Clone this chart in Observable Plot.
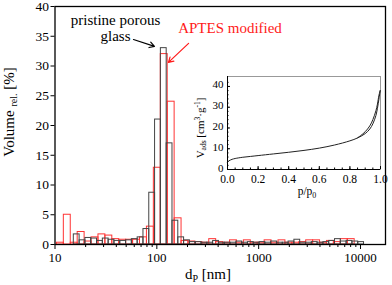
<!DOCTYPE html>
<html><head><meta charset="utf-8">
<script src="https://cdn.jsdelivr.net/npm/d3@7"></script>
<script src="https://cdn.jsdelivr.net/npm/@observablehq/plot@0.6"></script>
<style>
body{margin:0;background:#fff}
#c{position:relative;width:392px;height:285px;}
#c svg{position:absolute;overflow:visible}
</style>
</head><body><div id="c"></div>
<script>
// ---- Histogram data (pore diameter in nm, log-spaced bins) ----
const blackBinStart = 15.3;      // nm, lower edge of first bin
const blackBinWidth = 0.057;     // decades
const blackValues = [1.7,0.7,1.1,1.0,0.6,1.0,0.8,0.6,0.6,0.7,0.9,1.2,2.6,8.7,21,33,17,4.0,1.2,0.7,
  0.4,0.4,0.3,0.3,0.6,0.3,0.3,0.3,0.5,0.3,0.4,0.3,0.4,0.3,0.5,0.3,0.3,0.5,0.8,0.3,
  0.3,0.4,0.3,0.4,0.6,0.9,0.5,0.6,0.5,0.4];
const redBinStart = 10.44;
const redBinWidth = 0.068;
const redValues = [0.3,5.0,0.3,2.1,0.5,1.2,1.7,1.5,0.9,0.8,0.8,0.8,1.2,3.0,12.9,32,24,4.4,0.6,0.5,
  0.4,0.3,0.9,0.4,0.3,0.7,0.3,0.7,0.3,0.3,0.7,0.3,0.7,0.3,0.3,0.4,0.7,0.7,0.3,0.6,
  0.4,0.9,0.9];
const xMajorTicks = [10,100,1000,10000];
const yTicks = [0,5,10,15,20,25,30,35,40];

// ---- Inset isotherm ----
const adsP = [0,0.01,0.03,0.05,0.1,0.15,0.2,0.3,0.4,0.5,0.6,0.7,0.8,0.85,0.9,0.93,0.95,0.97,0.98,0.99,0.998];
const adsV = [3.5,4.2,4.9,5.3,5.9,6.3,6.7,7.5,8.3,9.2,10.3,11.8,13.8,15.2,17.3,19.5,22,26,29.5,34,38];
const desP = [0.998,0.99,0.98,0.97,0.95,0.93,0.9,0.87,0.85];
const desV = [38,35.8,31.5,28.3,24,21,18.2,16.3,15.3];
const insetXTicks = [0,0.2,0.4,0.6,0.8,1.0];
const insetYTicks = [0,10,20,30,40];

// ---- Annotations (data coordinates) ----
const labels = [
  {text:"pristine porous", x:39.3, y:37.7, color:"black"},
  {text:"glass", x:39.3, y:35.0, color:"black"},
  {text:"APTES modified", x:523, y:36.3, color:"#ff1a1a"}
];
const arrows = [
  {x1:59, y1:34.45, x2:94.8, y2:33.3, color:"black"},
  {x1:205, y1:33.8, x2:130, y2:30.6, color:"#ff1a1a"}
];

const rows = (start, w, vals) => vals.map((v,i)=>({x1:start*10**(i*w), x2:start*10**((i+1)*w), y:v}));
const blackRows = rows(blackBinStart, blackBinWidth, blackValues);
const redRows = rows(redBinStart, redBinWidth, redValues);
const xMinor = [];
for (const d of [10,100,1000,10000]) for (let k=2;k<=9;k++) if (d*k<17600) xMinor.push(d*k);

const font = "Liberation Serif, Times New Roman, serif";
const main = Plot.plot({
  width:392, height:285, marginLeft:54.5, marginRight:7, marginTop:6, marginBottom:41,
  style:{fontFamily:font, fontSize:"13px", color:"black", background:"transparent"},
  x:{type:"log", domain:[10,17600]},
  y:{domain:[0,40]},
  marks:[
    Plot.rectY(redRows,{x1:"x1",x2:"x2",y:"y",fill:"none",stroke:"#ff3333",strokeWidth:1,inset:0}),
    Plot.rectY(blackRows,{x1:"x1",x2:"x2",y:"y",fill:"none",stroke:"#444",strokeWidth:1,inset:0}),
    Plot.axisX({ticks:xMajorTicks, tickFormat:d=>String(d), tickSize:5, tickPadding:3, label:null, fontSize:13}),
    Plot.axisX({ticks:xMinor, tickFormat:()=>"", tickSize:3, label:null}),
    Plot.axisY({ticks:yTicks, tickSize:4, tickPadding:2, label:null, fontSize:13.5}),
    Plot.frame({stroke:"black", strokeWidth:1.3}),
    Plot.text(labels,{x:"x",y:"y",text:"text",fill:"color",fontSize:15,textAnchor:"middle"}),
    Plot.arrow(arrows,{x1:"x1",y1:"y1",x2:"x2",y2:"y2",stroke:"color",strokeWidth:1.2,headLength:7})
  ]
});
document.getElementById("c").appendChild(main);
main.style.left="0px"; main.style.top="0px";
const ms = d3.select(main);
const yl = ms.append("text").attr("transform","translate(14,112) rotate(-90)")
  .attr("text-anchor","middle").attr("font-family",font).attr("font-size",15).attr("fill","black");
yl.append("tspan").text("Volume ");
yl.append("tspan").attr("font-size",10).attr("dy",3).text("rel.");
yl.append("tspan").attr("dy",-3).text(" [%]");
const xl = ms.append("text").attr("x",208).attr("y",279)
  .attr("text-anchor","middle").attr("font-family",font).attr("font-size",15).attr("fill","black");
xl.append("tspan").text("d");
xl.append("tspan").attr("font-size",10).attr("dy",3).text("P");
xl.append("tspan").attr("dy",-3).text(" [nm]");

// inset
const ads = adsP.map((p,i)=>({p, v:adsV[i]}));
const des = desP.map((p,i)=>({p, v:desV[i]}));
const yMinorIn = d3.range(0,44,2);
const xMinorIn = d3.range(0,1.0001,0.05);
const inset = Plot.plot({
  width:195, height:134, marginLeft:37, marginRight:5, marginTop:10, marginBottom:31,
  style:{fontFamily:font, fontSize:"11px", color:"black", background:"transparent"},
  x:{domain:[0,1]},
  y:{domain:[0,44.8]},
  marks:[
    Plot.frame({stroke:"#999", strokeWidth:1}),
    Plot.ruleX([0],{stroke:"black"}),
    Plot.ruleY([0],{stroke:"black"}),
    Plot.axisY({ticks:insetYTicks, tickSize:0, tickPadding:4, dy:-1.5, label:null, fontSize:11}),
    Plot.axisY({ticks:insetYTicks, tickSize:3, dx:3, tickFormat:()=>"", label:null}),
    Plot.axisY({ticks:yMinorIn, tickSize:1.5, dx:1.5, tickFormat:()=>"", label:null}),
    Plot.axisX({ticks:insetXTicks, tickSize:0, tickPadding:5, tickFormat:d3.format(".1f"), label:null, fontSize:11.5}),
    Plot.axisX({ticks:insetXTicks, tickSize:3, dy:-3, tickFormat:()=>"", label:null}),
    Plot.axisX({ticks:xMinorIn, tickSize:1.5, dy:-1.5, tickFormat:()=>"", label:null}),
    Plot.line(ads,{x:"p",y:"v",stroke:"#222",strokeWidth:1,curve:"catmull-rom"}),
    Plot.line(des,{x:"p",y:"v",stroke:"#222",strokeWidth:1,curve:"catmull-rom"})
  ]
});
document.getElementById("c").appendChild(inset);
inset.style.left="190px"; inset.style.top="66px";
const is = d3.select(inset);
const il = is.append("text").attr("transform","translate(14,62) rotate(-90)")
  .attr("text-anchor","middle").attr("font-family",font).attr("font-size",11).attr("fill","black");
il.append("tspan").text("V");
il.append("tspan").attr("font-size",7.5).attr("dy",2).text("ads");
il.append("tspan").attr("dy",-2).text(" [cm");
il.append("tspan").attr("font-size",7.5).attr("dy",-4).text("3");
il.append("tspan").attr("dy",4).text("·g");
il.append("tspan").attr("font-size",7.5).attr("dy",-4).text("-1");
il.append("tspan").attr("dy",4).text("]");
const pl = is.append("text").attr("x",117).attr("y",129)
  .attr("text-anchor","middle").attr("font-family",font).attr("font-size",11.5).attr("fill","black");
pl.append("tspan").text("p/p");
pl.append("tspan").attr("font-size",8).attr("dy",2.5).text("0");
</script></body></html>
